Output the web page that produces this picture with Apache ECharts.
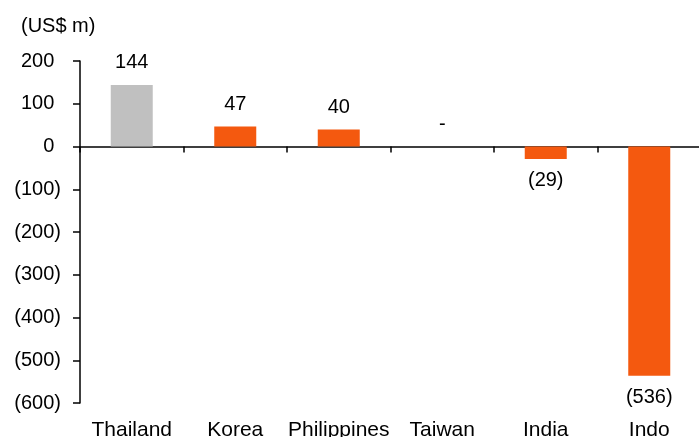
<!DOCTYPE html>
<html>
<head>
<meta charset="utf-8">
<script src="https://cdn.jsdelivr.net/npm/echarts@6/dist/echarts.min.js"></script>
<style>
html,body{margin:0;padding:0;background:#fff;}
#chart{width:699px;height:437px;}
</style>
</head>
<body>
<div id="chart"></div>
<script>
const categories = ['Thailand', 'Korea', 'Philippines', 'Taiwan', 'India', 'Indo'];
const values = [144, 47, 40, 0, -29, -536];
const barColors = ['#C0C0C0', '#F4590F', '#F4590F', '#F4590F', '#F4590F', '#F4590F'];
const yTicks = { min: -600, max: 200, interval: 100 };
const unitLabel = '(US$ m)';

const fontFamily = '"Liberation Sans", Arial, sans-serif';
const FS = 20;
function fmtNum(v) {
  if (v < 0) return '(' + Math.abs(v) + ')';
  if (v === 0) return '-';
  return String(v);
}

const chart = echarts.init(document.getElementById('chart'));
chart.setOption({
  animation: false,
  textStyle: { fontFamily: fontFamily },
  title: {
    text: unitLabel,
    left: 16, top: 11,
    textStyle: { fontFamily: fontFamily, fontSize: FS, fontWeight: 'normal', color: '#000' }
  },
  grid: { left: 80, top: 61, bottom: 34, width: 621, containLabel: false, outerBoundsMode: 'none' },
  xAxis: [
    {
      type: 'category', data: categories, position: 'bottom',
      axisLine: { onZero: true, lineStyle: { color: '#000', width: 1.5 } },
      axisTick: { show: true, alignWithLabel: false, length: 6, lineStyle: { color: '#000', width: 1.5 } },
      axisLabel: { show: false },
      splitLine: { show: false }
    },
    {
      type: 'category', data: categories, position: 'bottom',
      axisLine: { show: false, onZero: false },
      axisTick: { show: false },
      axisLabel: { show: true, interval: 0, hideOverlap: false, color: '#000', fontSize: 21, fontFamily: fontFamily, margin: 17 },
      splitLine: { show: false }
    }
  ],
  yAxis: {
    type: 'value', min: yTicks.min, max: yTicks.max, interval: yTicks.interval,
    axisLine: { show: true, lineStyle: { color: '#000', width: 1.5 } },
    axisTick: { show: true, length: 7, lineStyle: { color: '#000', width: 1.5 } },
    axisLabel: {
      color: '#000', fontSize: FS, fontFamily: fontFamily, margin: 19,
      formatter: v => v < 0 ? '(' + Math.abs(v) + ')' : String(v) + '{h|)}',
      rich: { h: { color: 'rgba(0,0,0,0)', fontSize: FS, fontFamily: fontFamily } }
    },
    splitLine: { show: false }
  },
  series: [{
    type: 'bar',
    xAxisIndex: 0,
    barWidth: 42,
    data: values.map((v, i) => ({
      value: v,
      itemStyle: { color: barColors[i] },
      label: { position: v < 0 ? 'bottom' : 'top' }
    })),
    label: {
      show: true, color: '#000', fontSize: FS, fontFamily: fontFamily, distance: 12,
      formatter: p => fmtNum(p.value)
    }
  }]
});
</script>
</body>
</html>
